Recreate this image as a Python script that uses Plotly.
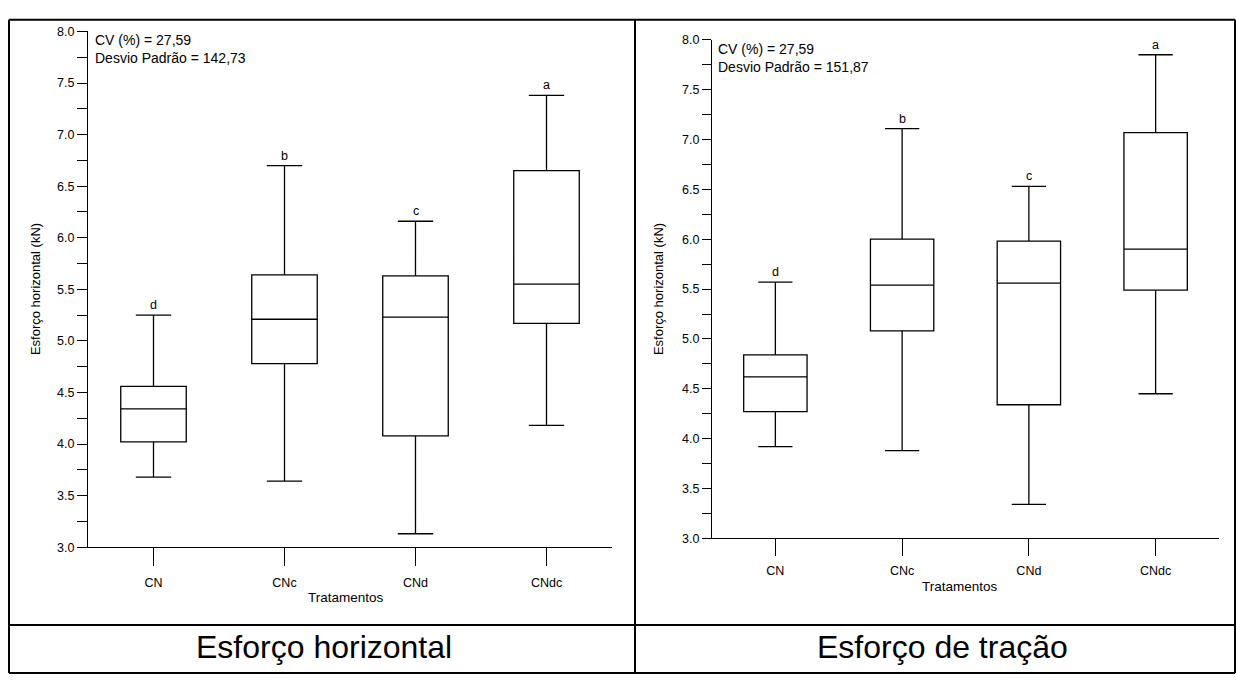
import plotly.graph_objects as go

# Treatments and box statistics (kN)
tratamentos = ["CN", "CNc", "CNd", "CNdc"]

# Esforço horizontal
h_lower = [3.68, 3.64, 3.13, 4.18]
h_q1 = [4.02, 4.78, 4.08, 5.17]
h_median = [4.34, 5.21, 5.23, 5.55]
h_q3 = [4.56, 5.64, 5.63, 6.65]
h_upper = [5.25, 6.70, 6.16, 7.38]
h_letters = ["d", "b", "c", "a"]

# Esforço de tração
t_lower = [3.92, 3.88, 3.34, 4.45]
t_q1 = [4.27, 5.08, 4.34, 5.49]
t_median = [4.62, 5.54, 5.56, 5.90]
t_q3 = [4.84, 6.00, 5.98, 7.07]
t_upper = [5.57, 7.11, 6.53, 7.85]
t_letters = ["d", "b", "c", "a"]

y_ticks = [3.0, 3.25, 3.5, 3.75, 4.0, 4.25, 4.5, 4.75, 5.0, 5.25, 5.5, 5.75,
           6.0, 6.25, 6.5, 6.75, 7.0, 7.25, 7.5, 7.75, 8.0]
y_ticktext = [f"{v:.1f}" if abs(v * 2 - round(v * 2)) < 1e-9 else "" for v in y_ticks]

W, H = 1236, 681
FONT = "Arial, Liberation Sans, sans-serif"


def px_x(p):
    return p / W


def px_y(p):
    return 1 - p / H


def text_at(x, y, text, size, **kw):
    opts = dict(xanchor="center", yanchor="middle")
    opts.update(kw)
    fig.add_annotation(x=px_x(x), y=px_y(y), xref="paper", yref="paper", text=text,
                       showarrow=False, font=dict(family=FONT, size=size, color="black"),
                       **opts)


fig = go.Figure()

panels = [
    dict(xa="x", ya="y", lo=h_lower, q1=h_q1, med=h_median, q3=h_q3, up=h_upper,
         letters=h_letters),
    dict(xa="x2", ya="y2", lo=t_lower, q1=t_q1, med=t_median, q3=t_q3, up=t_upper,
         letters=t_letters),
]

for p in panels:
    fig.add_trace(go.Box(
        x=tratamentos, q1=p["q1"], median=p["med"], q3=p["q3"],
        lowerfence=p["lo"], upperfence=p["up"],
        xaxis=p["xa"], yaxis=p["ya"],
        width=0.5, whiskerwidth=0.54,
        line=dict(color="black", width=1.3), fillcolor="white",
        boxpoints=False, showlegend=False, hoverinfo="skip",
    ))
    for cat, top, letter in zip(tratamentos, p["up"], p["letters"]):
        fig.add_annotation(x=cat, y=top, xref=p["xa"], yref=p["ya"], text=letter,
                           showarrow=False, xanchor="center", yanchor="bottom", yshift=1,
                           font=dict(family=FONT, size=12.5, color="black"))

axis_common = dict(
    showgrid=False, zeroline=False, showline=True, linecolor="black", linewidth=1.3,
    ticks="outside", tickcolor="black", tickwidth=1.1,
    tickfont=dict(family=FONT, size=12.5, color="black"),
)

fig.update_layout(
    width=W, height=H, margin=dict(l=0, r=0, t=0, b=0),
    paper_bgcolor="white", plot_bgcolor="white",
    font=dict(family=FONT, color="black"),
    xaxis=dict(domain=[px_x(88), px_x(612)], anchor="y", range=[-0.5, 3.5],
               ticklen=18, ticklabelstandoff=6, **axis_common),
    yaxis=dict(domain=[px_y(551.5), px_y(25)], anchor="x", range=[3, 8],
               tickvals=y_ticks, ticktext=y_ticktext, ticklen=10, **axis_common),
    xaxis2=dict(domain=[px_x(712), px_x(1219)], anchor="y2", range=[-0.5, 3.5],
                ticklen=17, ticklabelstandoff=4, **axis_common),
    yaxis2=dict(domain=[px_y(542.5), px_y(33.5)], anchor="x2", range=[3, 8],
                tickvals=y_ticks, ticktext=y_ticktext, ticklen=9, **axis_common),
)

# Statistics text in each panel
text_at(93, 23, "CV (%) = 27,59<br>Desvio Padrão = 142,73", 14,
        xanchor="left", yanchor="top", align="left")
text_at(716, 32.5, "CV (%) = 27,59<br>Desvio Padrão = 151,87", 14,
        xanchor="left", yanchor="top", align="left")

# Axis titles
for x, y in [(35, 288), (658, 288)]:
    text_at(x, y, "Esforço horizontal (kN)", 13, textangle=-90)
for x, y in [(346, 603), (960, 592)]:
    text_at(x, y, "Tratamentos", 13.5)

# Captions under each panel
for x, text in [(324, "Esforço horizontal"), (942, "Esforço de tração")]:
    text_at(x, 653, text, 32)

# Table frame around the two panels
frame = dict(type="line", xref="paper", yref="paper", line=dict(color="black", width=2))
fig.add_shape(x0=px_x(9), x1=px_x(1235), y0=px_y(13), y1=px_y(13), **frame)
fig.add_shape(x0=px_x(9), x1=px_x(1235), y0=px_y(631), y1=px_y(631), **frame)
fig.add_shape(x0=px_x(9), x1=px_x(1235), y0=px_y(680), y1=px_y(680), **frame)
fig.add_shape(x0=px_x(9), x1=px_x(9), y0=px_y(13), y1=px_y(680), **frame)
fig.add_shape(x0=px_x(635), x1=px_x(635), y0=px_y(13), y1=px_y(680), **frame)
fig.add_shape(x0=px_x(1235), x1=px_x(1235), y0=px_y(13), y1=px_y(680), **frame)

fig.write_html("out.html")
